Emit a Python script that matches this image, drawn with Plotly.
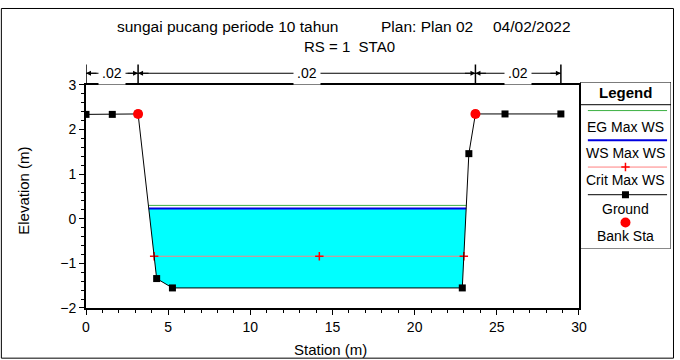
import plotly.graph_objects as go

# ---- data ----
station = [0, 1.6, 3.17, 4.3, 5.26, 22.9, 23.3, 23.7, 25.5, 28.9]
elevation = [2.34, 2.34, 2.35, -1.34, -1.55, -1.55, 1.46, 2.35, 2.35, 2.35]
bank_sta = [3.17, 23.7]
bank_elev = [2.35, 2.35]
ws_max = 0.23
eg_max = 0.30
crit_max = -0.84
crit_mid_sta = 14.2
n_values = [".02", ".02", ".02"]
n_breaks = [0, 3.17, 23.7, 28.9]
x_ticks = [0, 5, 10, 15, 20, 25, 30]
y_ticks = [-2, -1, 0, 1, 2, 3]

W, H = 680, 360
ML, MR, MT, MB = 86, 2, 0, 52
PW, PH = W - ML - MR, H - MT - MB


def px(x):
    return (x - ML) / PW


def py(y):
    return (H - MB - y) / PH


def crossings(level):
    xs = []
    for i in range(len(station) - 1):
        x0, x1 = station[i], station[i + 1]
        y0, y1 = elevation[i], elevation[i + 1]
        if (y0 - level) * (y1 - level) < 0:
            xs.append(x0 + (level - y0) * (x1 - x0) / (y1 - y0))
    return xs[0], xs[-1]


FONT = "Liberation Sans, Arial, sans-serif"
fig = go.Figure()

# water polygon
xl, xr = crossings(ws_max)
wx = [xl] + [s for s, e in zip(station, elevation) if xl < s < xr and e < ws_max] + [xr, xl]
wy = [ws_max] + [e for s, e in zip(station, elevation) if xl < s < xr and e < ws_max] + [ws_max, ws_max]
fig.add_trace(go.Scatter(x=wx, y=wy, fill="toself", fillcolor="#00ffff", mode="none",
                         hoverinfo="skip", showlegend=False))

el, er = crossings(eg_max)
fig.add_trace(go.Scatter(x=[el, er], y=[eg_max, eg_max], mode="lines",
                         line=dict(color="#3cb043", width=1), showlegend=False))
fig.add_trace(go.Scatter(x=[xl, xr], y=[ws_max, ws_max], mode="lines",
                         line=dict(color="#0000e0", width=2), showlegend=False))
cl, cr = crossings(crit_max)
fig.add_trace(go.Scatter(x=[cl, crit_mid_sta, cr], y=[crit_max] * 3, mode="lines+markers",
                         line=dict(color="#ff8080", width=1),
                         marker=dict(symbol="cross-thin", size=6, line=dict(color="#ff0000", width=1.5)),
                         showlegend=False))
fig.add_trace(go.Scatter(x=station, y=elevation, mode="lines+markers",
                         line=dict(color="black", width=1),
                         marker=dict(symbol="square", size=7, color="black"), showlegend=False))
fig.add_trace(go.Scatter(x=bank_sta, y=bank_elev, mode="markers",
                         marker=dict(symbol="circle", size=10, color="#ff0000"), showlegend=False))

# ---- custom legend on a pixel-scaled overlay axis ----
LX0, LX1, LY0, LY1 = 585, 677, 76, 247
cx = (LX0 + LX1) / 2
leg_items = [
    ("EG Max WS", 105.3, 121.7, dict(color="#3cb043", width=1), None),
    ("WS Max WS", 135.7, 149.0, dict(color="#0000e0", width=2), None),
    ("Crit Max WS", 163.3, 176.7, dict(color="#ff8080", width=1),
     dict(symbol="cross-thin", size=6, line=dict(color="#ff0000", width=1.5))),
    ("Ground", 191.7, 206.7, dict(color="black", width=1), dict(symbol="square", size=7, color="black")),
]
for name, ly, ty, ln, mk in leg_items:
    fig.add_trace(go.Scatter(x=[593, 673], y=[ly, ly], xaxis="x2", yaxis="y2", mode="lines",
                             line=ln, showlegend=False, hoverinfo="skip"))
    if mk:
        fig.add_trace(go.Scatter(x=[cx], y=[ly], xaxis="x2", yaxis="y2", mode="markers",
                                 marker=mk, showlegend=False, hoverinfo="skip"))
    fig.add_annotation(x=cx, y=ty, xref="x2", yref="y2", text=name, showarrow=False,
                       xanchor="center", yanchor="middle",
                       font=dict(family=FONT, size=14, color="black"))
fig.add_trace(go.Scatter(x=[cx], y=[220.3], xaxis="x2", yaxis="y2", mode="markers",
                         marker=dict(symbol="circle", size=10, color="#ff0000"),
                         showlegend=False, hoverinfo="skip"))
fig.add_annotation(x=cx, y=234.3, xref="x2", yref="y2", text="Bank Sta", showarrow=False,
                   xanchor="center", yanchor="middle",
                   font=dict(family=FONT, size=14, color="black"))
fig.add_annotation(x=cx, y=87, xref="x2", yref="y2", text="<b>Legend</b>", showarrow=False,
                   xanchor="center", yanchor="middle",
                   font=dict(family=FONT, size=15, color="black"))
fig.add_shape(type="rect", xref="x2", yref="y2", x0=LX0, x1=LX1, y0=LY0, y1=LY1,
              line=dict(color="black", width=1))
fig.add_shape(type="line", xref="x2", yref="y2", x0=LX0, x1=LX1, y0=99.3, y1=99.3,
              line=dict(color="black", width=1))

# ---- Manning's n labels above the plot ----
ny = py(67)
for xb in n_breaks:
    fig.add_shape(type="line", xref="x", yref="paper", x0=xb, x1=xb, y0=py(78), y1=py(58),
                  line=dict(color="black", width=1.5))
for i, nv in enumerate(n_values):
    a, b = n_breaks[i], n_breaks[i + 1]
    fig.add_shape(type="line", xref="x", yref="paper", x0=a, x1=b, y0=ny, y1=ny,
                  line=dict(color="black", width=1))
    fig.add_annotation(x=(a + b) / 2, y=ny, xref="x", yref="paper", text=nv, showarrow=False,
                       xanchor="center", yanchor="middle",
                       bgcolor="white", borderpad=3, font=dict(family=FONT, size=14, color="black"))
    for xh, d in ((a, 12), (b, -12)):
        fig.add_annotation(x=xh, y=ny, xref="x", yref="paper", text="", showarrow=True,
                           ax=d, ay=0, arrowhead=2, arrowsize=1, arrowwidth=1, arrowcolor="black")

# titles
for txt, x, y, sz in [("sungai pucang periode 10 tahun", 229, 19, 15.5),
                      ("Plan: Plan 02", 430, 19, 15.5),
                      ("04/02/2022", 537, 19, 15.5),
                      ("RS = 1\u00a0\u00a0STA0", 352, 40, 15)]:
    fig.add_annotation(x=px(x), y=py(y), xref="paper", yref="paper", text=txt, showarrow=False,
                       xanchor="center", yanchor="middle",
                       font=dict(family=FONT, size=sz, color="black"))
fig.add_annotation(x=px(333), y=py(351), xref="paper", yref="paper", text="Station (m)",
                   xanchor="center", yanchor="middle",
                   showarrow=False, font=dict(family=FONT, size=15, color="black"))
fig.add_annotation(x=px(22), y=py(188), xref="paper", yref="paper", text="Elevation (m)",
                   xanchor="center", yanchor="middle",
                   showarrow=False, textangle=-90, font=dict(family=FONT, size=15, color="black"))

# outer frame
fig.add_shape(type="rect", xref="paper", yref="paper", x0=px(0.5), x1=px(679.5),
              y0=py(359.5), y1=py(0.5), line=dict(color="black", width=1))

axis_common = dict(showgrid=False, zeroline=False, showline=True, linecolor="black", linewidth=2,
                   mirror=True, ticks="outside", ticklen=5, tickcolor="black", tickwidth=1,
                   tickfont=dict(family=FONT, size=14, color="black"))
fig.update_layout(
    width=W, height=H, margin=dict(l=ML, r=MR, t=MT, b=MB),
    paper_bgcolor="white", plot_bgcolor="white", showlegend=False,
    xaxis=dict(domain=[0, px(584)], range=[0, 30], tickvals=x_ticks,
               minor=dict(dtick=1, ticks="outside", ticklen=3, tickcolor="black"), **axis_common),
    yaxis=dict(domain=[0, py(79)], range=[-2, 3], tickvals=y_ticks,
               minor=dict(dtick=0.2, ticks="outside", ticklen=3, tickcolor="black"), **axis_common),
    xaxis2=dict(domain=[px(LX0), px(LX1)], range=[LX0, LX1], visible=False, anchor="y2"),
    yaxis2=dict(domain=[py(LY1), py(LY0)], range=[LY1, LY0], visible=False, anchor="x2"),
)
fig.write_html("out.html")
